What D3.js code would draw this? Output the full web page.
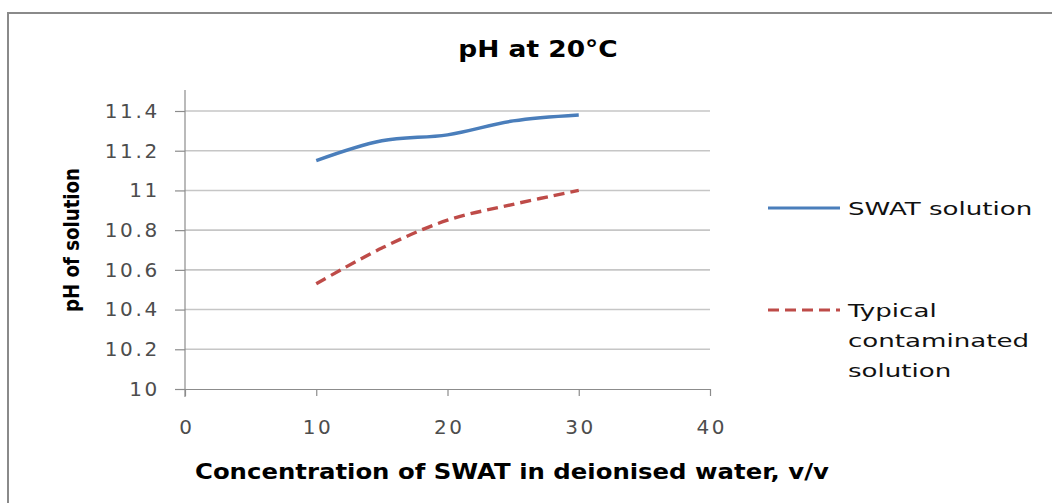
<!DOCTYPE html>
<html>
<head>
<meta charset="utf-8">
<title>pH at 20°C</title>
<style>
body {
  margin: 0;
  background: #fff;
}

svg {
  display: block;
}

.grid line {
  stroke: #c6c6c6;
  stroke-width: 1.6px;
}

.axis path, .axis line {
  stroke: #8c8c8c;
  stroke-width: 1.2px;
}

.axis text {
  font-family: "DejaVu Sans", Verdana, sans-serif;
  font-size: 20px;
  letter-spacing: 2.7px;
  fill: #4d4d4d;
}

.legend text {
  font-family: "DejaVu Sans", Verdana, sans-serif;
  font-size: 18px;
  fill: #111;
}
</style>
<script src="https://d3js.org/d3.v7.min.js"></script>
</head>
<body>
<script>
const concentrations = [10, 15, 20, 25, 30];
const swatValues = [11.15, 11.25, 11.28, 11.35, 11.38];
const typicalValues = [10.53, 10.71, 10.85, 10.93, 11.0];
const xTicks = [0, 10, 20, 30, 40];
const yTicks = [10, 10.2, 10.4, 10.6, 10.8, 11, 11.2, 11.4];

const width = 1052,
  height = 503;

const margin = {left: 185, right: 342, top: 111, bottom: 114};
const stretch = 1.45;

let svg = d3.select('body').append('svg')
  .attr('width', width)
  .attr('height', height);

// chart frame (only top and left edges are in view)
svg.append('path')
  .attr('d', 'M8,' + height + 'V13H' + width)
  .attr('fill', 'none')
  .attr('stroke', '#8a8a8a')
  .attr('stroke-width', 2);

let x = d3.scaleLinear()
  .domain([0, 40])
  .range([margin.left, width - margin.right]);

let y = d3.scaleLinear()
  .domain([10, 11.4])
  .range([height - margin.bottom, margin.top]);

// gridlines
svg.append('g')
  .attr('class', 'grid')
  .selectAll('line')
    .data(yTicks.slice(1))
    .enter().append('line')
      .attr('x1', x(0))
      .attr('x2', x(40))
      .attr('y1', d => y(d))
      .attr('y2', d => y(d));

let yAxis = svg.append('g')
  .attr('class', 'axis')
  .attr('transform', 'translate(' + x(0) + ',0)')
  .call(d3.axisLeft(y).tickValues(yTicks).tickSize(10).tickPadding(15).tickFormat(d => +d.toFixed(1) + ''));

let xAxis = svg.append('g')
  .attr('class', 'axis')
  .attr('transform', 'translate(0,' + y(10) + ')')
  .call(d3.axisBottom(x).tickValues(xTicks).tickSize(7).tickSizeOuter(0).tickPadding(24));

yAxis.select('.domain').attr('d', 'M0,90V' + (y(10) + 8));
xAxis.selectAll('text').attr('dx', 1.35);

let line = d3.line()
  .x(d => x(d[0]))
  .y(d => y(d[1]))
  .curve(d3.curveCatmullRom.alpha(0.5));

const series = [
  {name: ['SWAT solution'], values: swatValues, color: '#4a7ebb', dash: null},
  {name: ['Typical', 'contaminated', 'solution'], values: typicalValues, color: '#be4b48', dash: '11,6'}
];

svg.append('g')
  .selectAll('path')
    .data(series)
    .enter().append('path')
      .attr('d', s => line(concentrations.map((c, i) => [c, s.values[i]])))
      .attr('fill', 'none')
      .attr('stroke', s => s.color)
      .attr('stroke-width', 3.4)
      .attr('stroke-dasharray', s => s.dash);

// title
svg.append('text')
  .attr('transform', 'translate(538,57) scale(1.15,1)')
  .attr('text-anchor', 'middle')
  .style('font-family', '"DejaVu Sans", sans-serif')
  .style('font-weight', 'bold')
  .style('font-size', '23px')
  .text('pH at 20°C');

// y axis title
svg.append('text')
  .attr('transform', 'translate(79,240) rotate(-90)')
  .attr('text-anchor', 'middle')
  .attr('textLength', 144)
  .attr('lengthAdjust', 'spacingAndGlyphs')
  .style('font-family', '"DejaVu Sans", sans-serif')
  .style('font-weight', 'bold')
  .style('font-size', '21px')
  .text('pH of solution');

// x axis title
svg.append('text')
  .attr('x', 195)
  .attr('y', 479)
  .attr('textLength', 634)
  .attr('lengthAdjust', 'spacingAndGlyphs')
  .style('font-family', '"DejaVu Sans", Verdana, sans-serif')
  .style('font-weight', 'bold')
  .style('font-size', '22px')
  .text('Concentration of SWAT in deionised water, v/v');

// legend
let legend = svg.append('g')
  .attr('class', 'legend')
  .selectAll('g')
    .data(series)
    .enter().append('g')
      .attr('transform', (s, i) => 'translate(768,' + (208 + i * 102) + ')');

legend.append('line')
  .attr('x1', 0)
  .attr('x2', 72)
  .attr('stroke', s => s.color)
  .attr('stroke-width', 3)
  .attr('stroke-dasharray', s => s.dash);

legend.selectAll('text')
  .data(s => s.name)
  .enter().append('text')
    .attr('transform', (d, i) => 'translate(80,' + (7 + i * 30) + ') scale(' + stretch + ',1)')
    .text(d => d);
</script>
</body>
</html>
